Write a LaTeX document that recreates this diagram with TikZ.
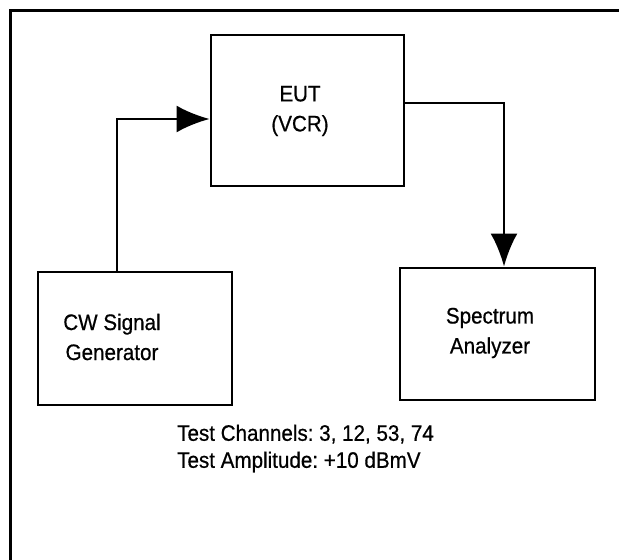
\documentclass[tikz,border=0pt]{standalone}
\usepackage{fontspec}
\setmainfont[FakeStretch=0.92,FakeBold=0.6]{Liberation Sans}
\usetikzlibrary{arrows.meta}
\frenchspacing
\begin{document}
\begin{tikzpicture}[x=1bp,y=-1bp,
  box/.style={draw, line width=2.8bp, inner sep=0pt},
  lbl/.style={font=\fontsize{22.4bp}{30bp}\selectfont, align=center, inner sep=0pt},
  conn/.style={line width=2.8bp},
  arr/.style={conn, -{Latex[length=33bp,width=27bp]}},
  frame/.style={line width=3bp}]
\useasboundingbox (0,0) rectangle (619,560);
\draw[frame] (10,560) -- (10,10.5) -- (619,10.5);
\node[box, minimum width=193bp, minimum height=151bp] (eut) at (307.5,110.5) {};
\node[box, minimum width=194bp, minimum height=133bp] (cw) at (135,338.5) {};
\node[box, minimum width=195bp, minimum height=132bp] (sa) at (497.5,334) {};
\node[lbl] (eutl) at (300,111) {EUT\\(VCR)};
\node[lbl] (cwl) at (112,337) {CW Signal\\Generator};
\node[lbl] (sal) at (490,333) {Spectrum\\Analyzer};
\node[lbl, align=left, anchor=west, font=\fontsize{22.4bp}{27bp}\selectfont] (note) at (177,448.5) {Test Channels: 3, 12, 53, 74\\Test Amplitude: +10 dBmV};
\draw[arr] ([xshift=-18bp]cw.north) |- ([yshift=-8.5bp]eut.west);
\draw[arr] ([yshift=7.5bp]eut.east) -| ([xshift=6.5bp]sa.north);
\end{tikzpicture}
\end{document}
